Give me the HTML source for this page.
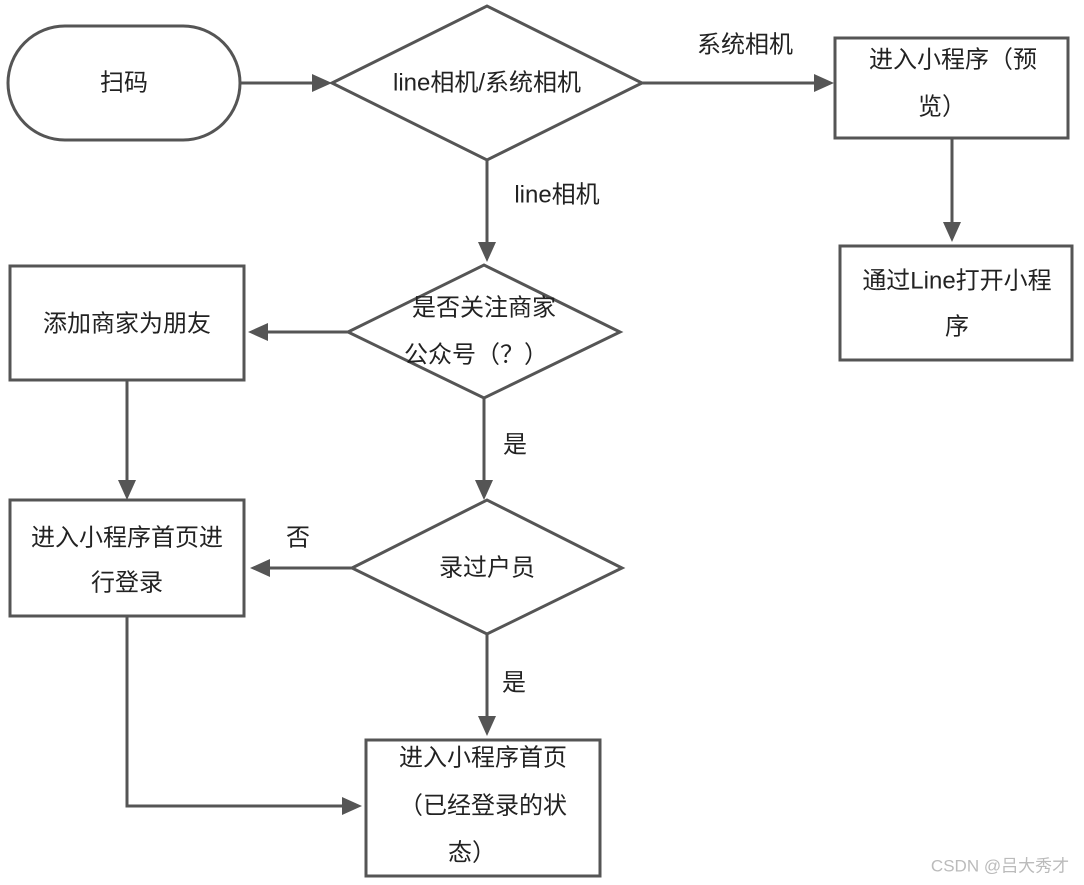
<!DOCTYPE html>
<html><head><meta charset="utf-8"><style>
html,body{margin:0;padding:0;background:#fff;}
svg{display:block;}
text{font-family:"Liberation Sans","Noto Sans CJK SC",sans-serif;font-size:24px;fill:#222;}
</style></head><body>
<svg width="1084" height="885" viewBox="0 0 1084 885" xmlns="http://www.w3.org/2000/svg">
<defs>
<marker id="a" markerWidth="10" markerHeight="10" refX="9" refY="5" orient="auto" markerUnits="userSpaceOnUse" viewBox="0 0 10 10">
</marker>
</defs>
<g fill="none" stroke="#555" stroke-width="3">
<rect x="8" y="26" width="232" height="114" rx="57" fill="#fff"/>
<polygon points="332,83 487,6 642,83 487,160" fill="#fff"/>
<rect x="835" y="38" width="233" height="100" fill="#fff"/>
<rect x="840" y="246" width="232" height="114" fill="#fff"/>
<polygon points="348,332 484,265 620,332 484,398" fill="#fff"/>
<rect x="10" y="266" width="234" height="114" fill="#fff"/>
<rect x="10" y="500" width="234" height="116" fill="#fff"/>
<polygon points="352,568 487,500 622,568 487,634" fill="#fff"/>
<rect x="366" y="740" width="234" height="136" fill="#fff"/>
<line x1="240" y1="83" x2="315" y2="83"/>
<line x1="642" y1="83" x2="818" y2="83"/>
<line x1="952" y1="138" x2="952" y2="226"/>
<line x1="487" y1="160" x2="487" y2="246"/>
<line x1="348" y1="332" x2="264" y2="332"/>
<line x1="127" y1="380" x2="127" y2="484"/>
<line x1="484" y1="398" x2="484" y2="484"/>
<line x1="352" y1="568" x2="266" y2="568"/>
<line x1="487" y1="634" x2="487" y2="720"/>
<polyline points="127,616 127,806 344,806"/>
</g>
<g fill="#555">
<polygon points="332,83 312,74 312,92"/>
<polygon points="834,83 814,74 814,92"/>
<polygon points="952,242 943,222 961,222"/>
<polygon points="487,262 478,242 496,242"/>
<polygon points="248,332 268,323 268,341"/>
<polygon points="127,500 118,480 136,480"/>
<polygon points="484,500 475,480 493,480"/>
<polygon points="250,568 270,559 270,577"/>
<polygon points="487,736 478,716 496,716"/>
<polygon points="362,806 342,797 342,815"/>
</g>
<g text-anchor="middle" dominant-baseline="central">
<text x="124" y="83">扫码</text>
<text x="487" y="83">line相机/系统相机</text>
<text x="745" y="45">系统相机</text>
<text x="953" y="60">进入小程序（预</text>
<text x="942" y="107">览）</text>
<text x="957" y="281">通过Line打开小程</text>
<text x="957" y="327">序</text>
<text x="557" y="195">line相机</text>
<text x="484" y="308">是否关注商家</text>
<text x="476" y="355">公众号（？）</text>
<text x="127" y="324">添加商家为朋友</text>
<text x="515" y="445">是</text>
<text x="127" y="538">进入小程序首页进</text>
<text x="127" y="583">行登录</text>
<text x="298" y="538">否</text>
<text x="487" y="568">录过户员</text>
<text x="514" y="683">是</text>
<text x="483" y="758">进入小程序首页</text>
<text x="483" y="806">（已经登录的状</text>
<text x="472" y="853">态）</text>
<text x="1000" y="866" style="font-size:17px;fill:#bbb">CSDN @吕大秀才</text>
</g>
</svg>
</body></html>
